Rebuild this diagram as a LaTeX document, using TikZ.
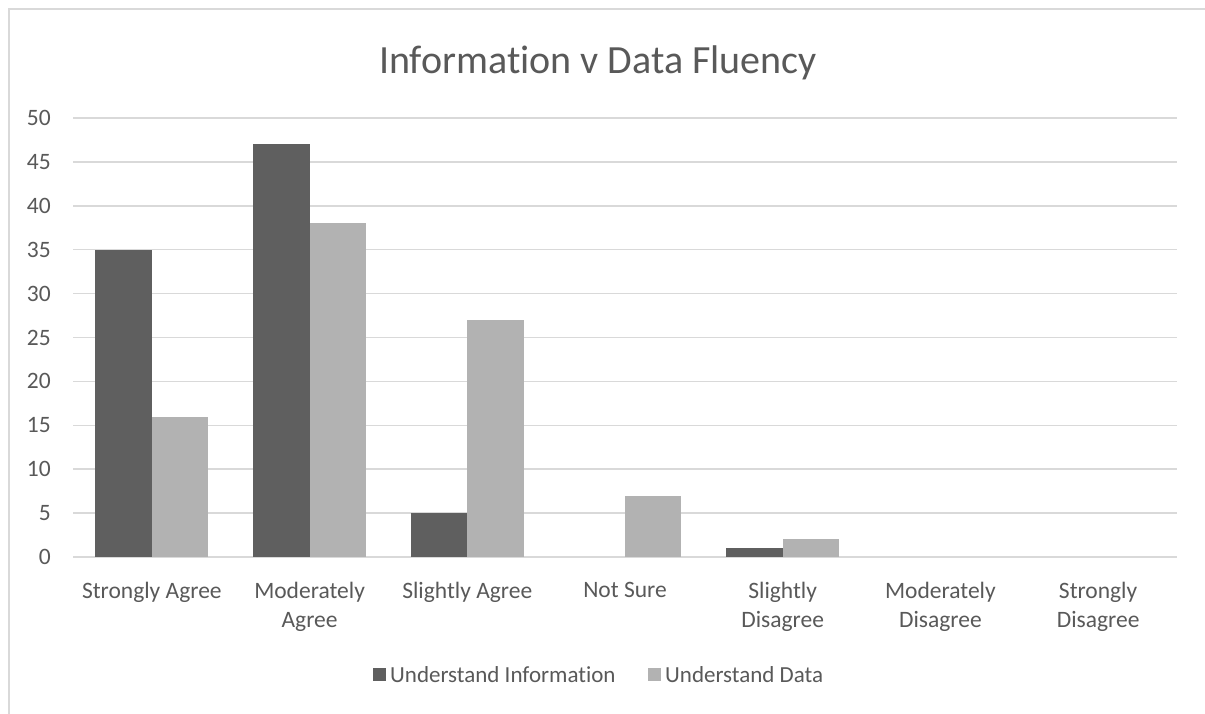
\documentclass[tikz,border=0pt]{standalone}
\usepackage{fontspec}
\setmainfont[Ligatures={NoCommon}]{Carlito}
\definecolor{txt}{HTML}{595959}
\definecolor{grid}{HTML}{D9D9D9}
\definecolor{dark}{HTML}{5F5F5F}
\definecolor{light}{HTML}{B2B2B2}
\definecolor{frame}{HTML}{D9D9D9}
\tikzset{
  gridline/.style={draw=grid, line width=1.5pt},
  tick/.style={text=txt, font=\fontsize{23.5}{28}\selectfont, anchor=east, inner sep=0pt},
  cat/.style={text=txt, font=\fontsize{23.5}{29}\selectfont, align=center, anchor=north, inner sep=0pt},
  legtext/.style={text=txt, font=\fontsize{23}{28}\selectfont, anchor=west, inner sep=0pt},
  bardark/.style={fill=dark, draw=none},
  barlight/.style={fill=light, draw=none},
}
\begin{document}
\begin{tikzpicture}[x=1pt,y=1pt]
\useasboundingbox (0,0) rectangle (1205,-714);
\fill[white] (0,0) rectangle (1205,-714);
\draw[draw=frame, line width=1.5pt] (9,-714) -- (9,-9) -- (1205,-9);
\node[text=txt, font=\fontsize{40}{44}\selectfont, inner sep=0pt] (title) at (598,-63) {Information v Data Fluency};
% grid: y(v) = -557 + 8.78 v
\foreach \v [count=\i] in {0,5,...,50} {
  \draw[gridline] (73,{-557+8.78*\v}) -- (1177,{-557+8.78*\v});
  \node[tick] (t\i) at (51,{-557+8.78*\v}) {\v};
}
% bars
\def\cw{157.71}
\foreach \a/\b [count=\i from 0] in {35/16,47/38,5/27,0/7,1/2,0/0,0/0} {
  \pgfmathsetmacro{\c}{73+\cw*(\i+0.5)}
  \ifdim \a pt>0pt \fill[bardark] ({\c-56.5},-557) rectangle (\c,{-557+8.78*\a}); \fi
  \ifdim \b pt>0pt \fill[barlight] (\c,-557) rectangle ({\c+56.5},{-557+8.78*\b}); \fi
}
\foreach \t [count=\i from 0] in {Strongly Agree,Moderately\\Agree,Slightly Agree,Not Sure,Slightly\\Disagree,Moderately\\Disagree,Strongly\\Disagree} {
  \node[cat] (c\i) at ({73+157.71*(\i+0.5)},-582) {\t};
}
% legend
\fill[dark] (373,-668) rectangle (386,-681);
\node[legtext] (l1) at (390,-675) {Understand Information};
\fill[light] (648,-668) rectangle (661,-681);
\node[legtext] (l2) at (665,-675) {Understand Data};
\end{tikzpicture}
\end{document}
